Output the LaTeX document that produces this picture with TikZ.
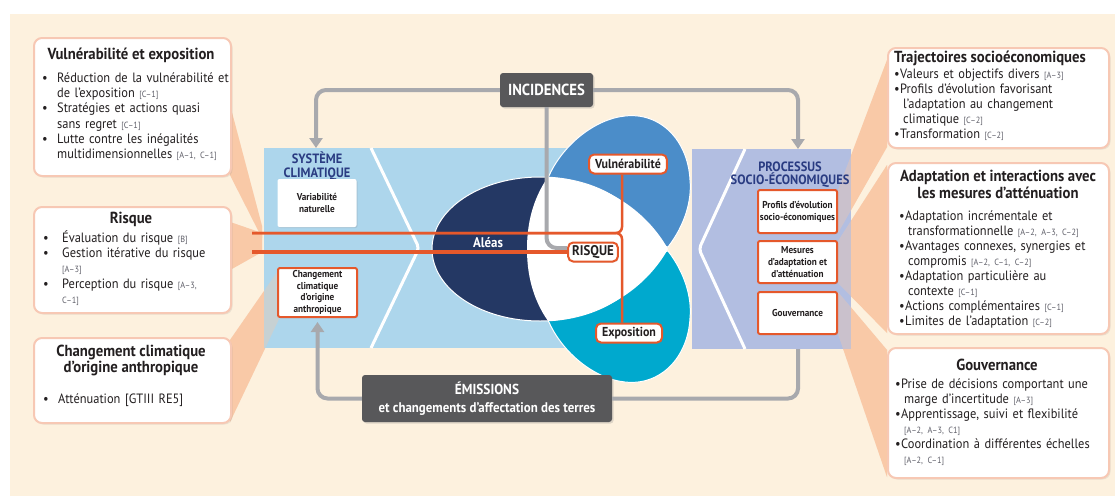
\documentclass[tikz,border=0pt]{standalone}
\usepackage{fontspec}
\setmainfont{PT Sans}[FakeStretch=0.92]
\usetikzlibrary{arrows.meta,shadows,positioning}

\definecolor{peach}{RGB}{253,241,222}
\definecolor{salmon}{RGB}{249,201,167}
\definecolor{boxline}{RGB}{247,200,180}
\definecolor{climblue}{RGB}{173,214,236}
\definecolor{socilav}{RGB}{178,190,225}
\definecolor{hazard}{RGB}{36,56,100}
\definecolor{vulnblue}{RGB}{75,141,201}
\definecolor{expocyan}{RGB}{0,169,206}
\definecolor{riskorange}{RGB}{229,88,43}
\definecolor{boxgrey}{RGB}{88,88,90}
\definecolor{arrowgrey}{RGB}{168,169,173}
\definecolor{navytext}{RGB}{42,60,130}
\definecolor{inktext}{RGB}{35,31,32}
\definecolor{codegrey}{RGB}{95,95,105}

% reference codes and list items
\newcommand{\refc}[1]{{\fontsize{9}{10}\selectfont\color{codegrey}[#1]}}
\newcommand{\bitem}[2][15pt]{\par\noindent\hangindent=#1\hangafter=1\makebox[#1][l]{\textbullet}#2\par}
\newcommand{\ditem}[1]{\par\noindent\hangindent=9pt\hangafter=1\makebox[6pt][l]{\textbullet}#1\par}

% salmon callouts between the boxes and the centre
\newcommand{\calloutwedges}[1]{%
  \fill[salmon,#1] (230,105) -- (262,226) -- (262,238) -- (230,175) -- cycle;
  \fill[salmon,#1] (230,222) -- (262,233) -- (262,252) -- (230,270) -- cycle;
  \fill[salmon,#1] (230,340) -- (280,268) -- (280,317) -- (230,422) -- cycle;
  \fill[salmon,#1] (887,60) -- (838,190) -- (838,233) -- (887,147) -- cycle;
  \fill[salmon,#1] (887,165) -- (838,241) -- (838,283) -- (887,333) -- cycle;
  \fill[salmon,#1] (887,350) -- (838,292) -- (838,334) -- (887,477) -- cycle;
}

\tikzset{
  textbox/.style={draw=boxline, line width=2pt, fill=white, rounded corners=8pt,
    drop shadow={opacity=0.15, shadow xshift=1.5pt, shadow yshift=-1.5pt}},
  boxtitle/.style={inner sep=0pt, align=center, text=inktext,
    font=\bfseries\fontsize{16}{17}\selectfont},
  listtext/.style={anchor=north west, inner sep=0pt, align=left, text=inktext,
    font=\fontsize{13.5}{15.2}\selectfont},
  paneltitle/.style={inner sep=0pt, align=center, text=navytext,
    font=\bfseries\fontsize{13.5}{14}\selectfont},
  smallbox/.style={fill=white, inner sep=1pt, rounded corners=2pt, align=center,
    text=inktext, font=\bfseries\fontsize{10}{12}\selectfont, minimum width=79pt,
    drop shadow={opacity=0.2, shadow xshift=1pt, shadow yshift=-1pt}},
  orangebox/.style={smallbox, draw=riskorange, line width=2pt},
  risklabel/.style={draw=riskorange, line width=2pt, fill=white, rounded corners=5pt,
    inner xsep=6pt, inner ysep=2pt, minimum height=19pt, text=inktext,
    font=\bfseries\fontsize{13}{13}\selectfont,
    drop shadow={opacity=0.2, shadow xshift=1pt, shadow yshift=-1pt}},
  darkbox/.style={fill=boxgrey, text=white, rounded corners=3pt, align=center,
    font=\bfseries\fontsize{14.5}{17}\selectfont,
    drop shadow={opacity=0.25, shadow xshift=1.5pt, shadow yshift=-1.5pt}},
  greyline/.style={draw=arrowgrey, line width=4pt, rounded corners=10pt},
  greyarrow/.style={greyline, -{Triangle[width=13pt, length=10pt]}},
  chevron/.style={draw=white, line width=3pt, rounded corners=4pt},
  orangeline/.style={draw=riskorange},
}

\begin{document}
\begin{tikzpicture}[x=1pt,y=-1pt]
% Canvas
\useasboundingbox (0,0) rectangle (1115,496);
\fill[white] (0,0) rectangle (1115,496);
\fill[peach] (10,14) rectangle (1115,496);
% Callouts
\calloutwedges{}
% Panels
\fill[climblue] (264,148) rectangle (567,348);
\fill[socilav] (692,149) rectangle (851,349);
\draw[chevron] (371,148) -- (419,248) -- (371,348);
\draw[chevron] (745,149) -- (699,249) -- (745,349);
\calloutwedges{opacity=0.35}
% Petals
\filldraw[fill=vulnblue, draw=white, line width=1pt]
  (668,247) .. controls (685,225) and (692,200) .. (690,180)
  .. controls (688,140) and (660,112) .. (625,116)
  .. controls (595,119) and (562,145) .. (548,178) -- (600,232) -- cycle;
\filldraw[fill=expocyan, draw=white, line width=1pt]
  (668,251) .. controls (685,273) and (692,298) .. (690,318)
  .. controls (688,358) and (660,386) .. (625,382)
  .. controls (595,379) and (562,353) .. (548,320) -- (600,266) -- cycle;
\filldraw[fill=hazard, draw=white, line width=1pt] (540,249) ellipse [x radius=108, y radius=72];
\fill[white]
  (668,249) .. controls (645,208) and (600,180) .. (548,177)
  .. controls (532,200) and (527,225) .. (527,249)
  .. controls (527,273) and (532,298) .. (548,321)
  .. controls (600,318) and (645,290) .. (668,249) -- cycle;
% Panel contents
\node[paneltitle] (climtitle) at (317,166) {SYSTÈME\\CLIMATIQUE};
\node[paneltitle, font=\bfseries\fontsize{13.5}{12.5}\selectfont] (socititle) at (790,174.5) {PROCESSUS\\SOCIO-ÉCONOMIQUES};
\node[smallbox, minimum height=48pt] (natvar) at (317,203) {Variabilité\\naturelle};
\node[orangebox, minimum height=49pt, font=\bfseries\fontsize{10}{11.6}\selectfont] (anthrobox) at (317.5,292.5) {Changement\\climatique\\d'origine\\anthropique};
\node[orangebox, minimum height=43pt] (profbox) at (797.5,211.5) {Profils d'évolution\\socio-économiques};
\node[orangebox, minimum height=42pt] (mesbox) at (797.5,262) {Mesures\\d'adaptation et\\d'atténuation};
\node[orangebox, minimum height=42pt] (govsmall) at (797.5,313) {Gouvernance};
\node[text=white, font=\bfseries\fontsize{14}{14}\selectfont] (aleas) at (488,243) {Aléas};
\node[risklabel] (vulnlabel) at (628,164) {Vulnérabilité};
\node[risklabel, inner xsep=4pt, font=\bfseries\fontsize{14}{14}\selectfont] (risque) at (593,252) {RISQUE};
\node[risklabel] (expolabel) at (629,333) {Exposition};
% Dark boxes
\node[darkbox, minimum width=93pt, minimum height=34pt, font=\bfseries\fontsize{16}{16}\selectfont] (incid) at (546.5,90) {INCIDENCES};
\node[darkbox, minimum width=250pt, minimum height=47pt] (emis) at (487,398.5)
  {ÉMISSIONS\\[1pt]{\fontsize{14}{14}\selectfont et changements d'affectation des terres}};
% Left boxes
\node[textbox, anchor=north west, minimum width=197pt, minimum height=138pt] (vulnexpo) at (33,37) {};
\node[boxtitle] (vulnexpotitle) at (131,55) {Vulnérabilité et exposition};
\node[listtext, text width=190pt] (vulnexpolist) at (42,67) {%
  \bitem{Réduction de la vulnérabilité et\newline de l'exposition \refc{C–1}}
  \bitem{Stratégies et actions quasi\newline sans regret \refc{C–1}}
  \bitem{Lutte contre les inégalités\newline multidimensionnelles \refc{A–1, C–1}}};
\node[textbox, anchor=north west, minimum width=197pt, minimum height=106pt] (riskbox) at (33,206) {};
\node[boxtitle] (risktitle) at (131,219) {Risque};
\node[listtext, text width=185pt] (risklist) at (43,227) {%
  \bitem[19pt]{Évaluation du risque \refc{B}}
  \bitem[19pt]{Gestion itérative du risque\newline\refc{A–3}}
  \bitem[19pt]{Perception du risque \refc{A–3,\newline C–1}}};
\node[textbox, anchor=north west, minimum width=197pt, minimum height=85pt] (anthrobig) at (33,337) {};
\node[boxtitle, font=\bfseries\fontsize{16}{16}\selectfont] (anthrotitle) at (131,360) {Changement climatique\\d'origine anthropique};
\node[listtext, text width=180pt] (anthrolist) at (43,388) {%
  \bitem{Atténuation [GTIII RE5]}};
% Right boxes
\node[textbox, anchor=north west, minimum width=221pt, minimum height=100pt] (trajbox) at (887,47) {};
\node[boxtitle, anchor=west] (trajtitle) at (894,58) {Trajectoires socioéconomiques};
\node[listtext, text width=212pt, font=\fontsize{13.5}{15}\selectfont] (trajlist) at (894,63) {%
  \ditem{Valeurs et objectifs divers \refc{A–3}}
  \ditem{Profils d'évolution favorisant\newline l'adaptation au changement\newline climatique \refc{C–2}}
  \ditem{Transformation \refc{C–2}}};
\node[textbox, anchor=north west, minimum width=221pt, minimum height=171pt] (adaptbox) at (887,162) {};
\node[boxtitle] (adapttitle) at (998,184.5) {Adaptation et interactions avec\\les mesures d'atténuation};
\node[listtext, text width=205pt, font=\fontsize{13.5}{15}\selectfont] (adaptlist) at (899,205) {%
  \ditem{Adaptation incrémentale et\newline transformationnelle \refc{A–2, A–3, C–2}}
  \ditem{Avantages connexes, synergies et\newline compromis \refc{A–2, C–1, C–2}}
  \ditem{Adaptation particulière au\newline contexte \refc{C–1}}
  \ditem{Actions complémentaires \refc{C–1}}
  \ditem{Limites de l'adaptation \refc{C–2}}};
\node[textbox, anchor=north west, minimum width=221pt, minimum height=130pt] (govbox) at (887,347) {};
\node[boxtitle] (govtitle) at (997,365) {Gouvernance};
\node[listtext, text width=210pt, font=\fontsize{13.5}{15}\selectfont] (govlist) at (895,373) {%
  \ditem{Prise de décisions comportant une\newline marge d’incertitude \refc{A–3}}
  \ditem{Apprentissage, suivi et flexibilité\newline\refc{A–2, A–3, C1}}
  \ditem{Coordination à différentes échelles\newline\refc{A–2, C–1}}};
% Grey connectors
\coordinate (climtop) at (316,148);
\coordinate (socitop) at (798,149);
\coordinate (socibot) at (798,349);
\draw[greyarrow] (incid.west) -| (climtop);
\draw[greyarrow] (incid.east) -| (socitop);
\draw[greyline] (incid.south) |- ([yshift=4pt]risque.west);
\draw[greyline] (socibot) |- (emis.east);
\draw[greyarrow, shorten >=4pt] (emis.west) -| (anthrobox.south);
% Orange connectors
\coordinate (hazstart) at (252,233);
\coordinate (riskstart) at (252,252);
\coordinate (brace) at (622,233);
\draw[orangeline, line width=2.5pt, rounded corners=6pt] (hazstart) -- (brace) -- (brace |- vulnlabel.south);
\draw[orangeline, line width=2.5pt, rounded corners=6pt] (hazstart) -- (brace) -- (brace |- expolabel.north);
\draw[orangeline, line width=4pt] (riskstart) -- (risque.west);
\end{tikzpicture}
\end{document}
